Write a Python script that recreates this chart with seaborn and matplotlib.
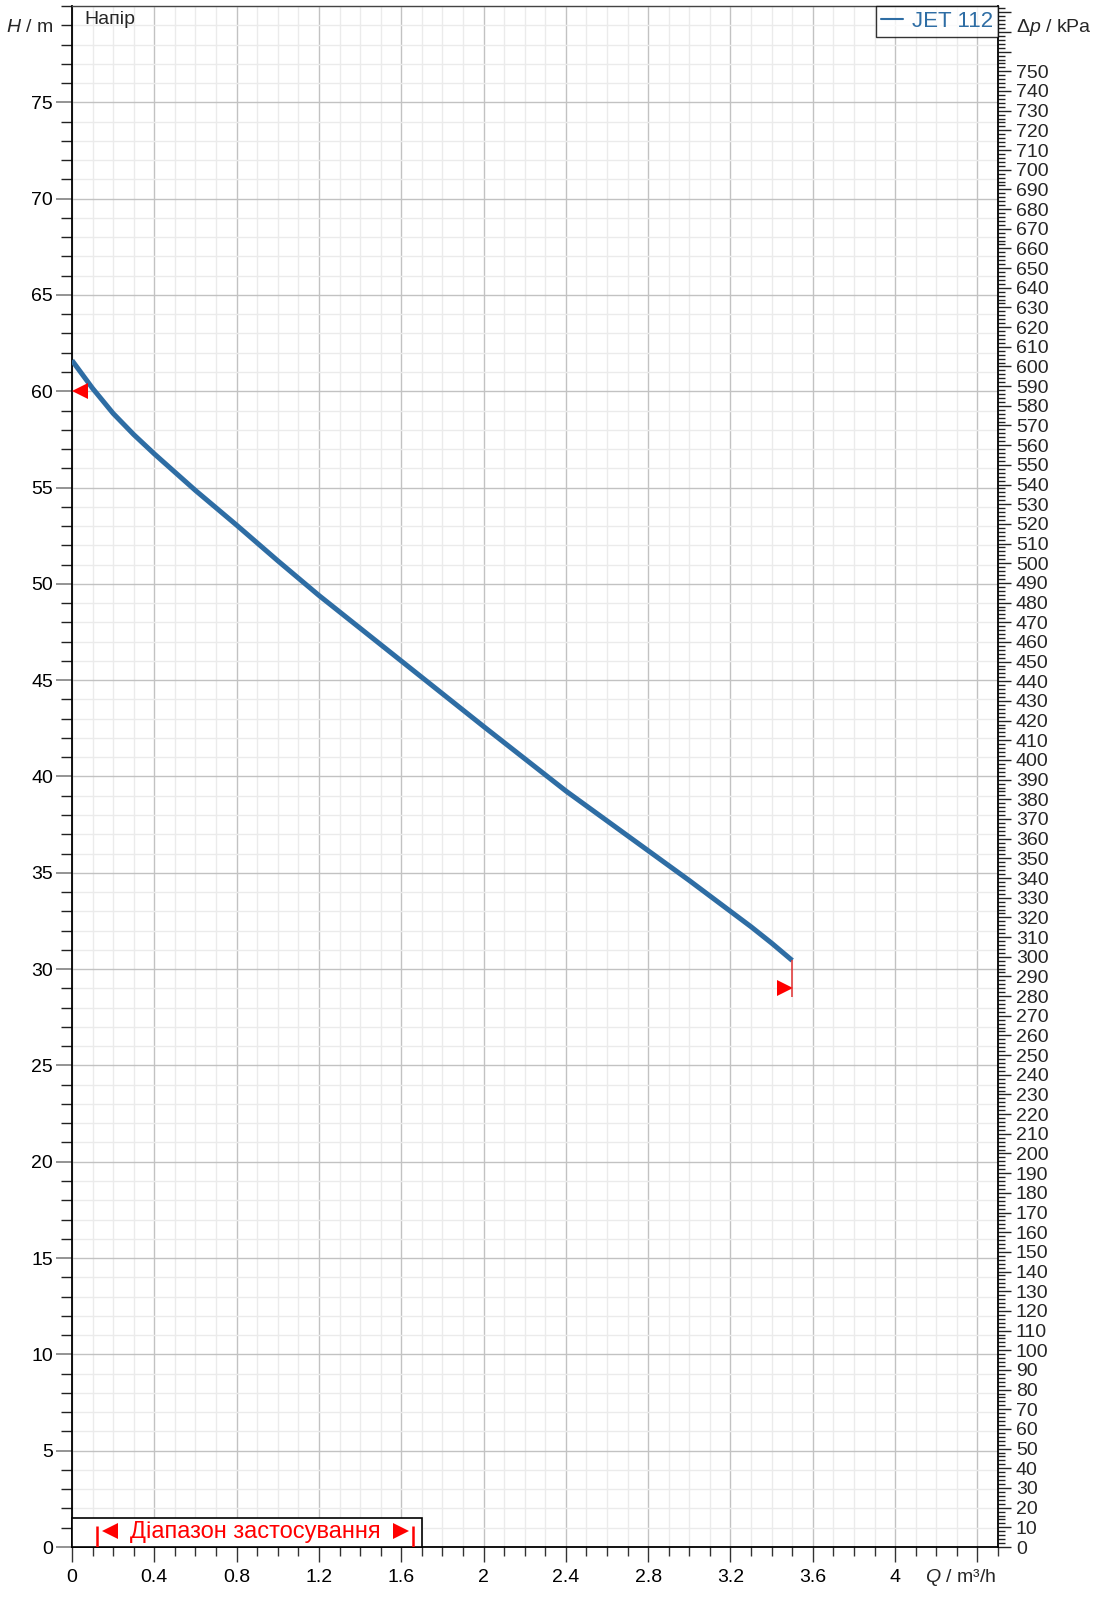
import numpy as np
import pandas as pd
import matplotlib
matplotlib.use("Agg")
import matplotlib.pyplot as plt
import seaborn as sns
from matplotlib.lines import Line2D
from matplotlib.patches import Rectangle
from matplotlib.ticker import MultipleLocator, FixedLocator, FixedFormatter

# ---- data ----
flow_q = [0.0, 0.1, 0.2, 0.3, 0.4, 0.6, 0.8, 1.0, 1.2, 1.6, 2.0, 2.4, 2.8, 3.0, 3.2, 3.3, 3.4, 3.5]
head_h = [61.6, 60.15, 58.85, 57.75, 56.75, 54.85, 53.05, 51.2, 49.4, 46.0, 42.6, 39.25,
          36.15, 34.6, 33.0, 32.2, 31.35, 30.45]
series_name = "JET 112"
x_major = [0, 0.4, 0.8, 1.2, 1.6, 2.0, 2.4, 2.8, 3.2, 3.6, 4.0, 4.4]
x_labels = ["0", "0.4", "0.8", "1.2", "1.6", "2", "2.4", "2.8", "3.2", "3.6", "4", ""]
y_major = [0, 5, 10, 15, 20, 25, 30, 35, 40, 45, 50, 55, 60, 65, 70, 75]
kpa_major = list(range(0, 790, 10))
kpa_labels = [str(v) if v <= 750 else "" for v in kpa_major]
range_q = [0.12, 1.658]
range_box_q = 1.70
min_head_marker = (0.039, 60.0)
end_marker = (3.467, 29.0)
end_line_h = [28.57, 30.45]
kpa_per_m = 9.79

sns.set_theme(style="white")
plt.rcParams['font.family'] = ['Liberation Sans', 'DejaVu Sans']
plt.rcParams['mathtext.fontset'] = 'custom'
plt.rcParams['mathtext.rm'] = 'Liberation Sans'
plt.rcParams['mathtext.it'] = 'Liberation Sans:italic'

W, H = 1095, 1598
fig = plt.figure(figsize=(W / 100, H / 100), dpi=100)
left, right, bottom, top = 72 / W, 998 / W, 1 - 1547 / H, 1 - 6 / H
ax = fig.add_axes([left, bottom, right - left, top - bottom])

curve_color = '#2e6da4'
df = pd.DataFrame({"Q": flow_q, "H": head_h})
sns.lineplot(data=df, x="Q", y="H", ax=ax, color=curve_color, lw=3.6,
             solid_capstyle='butt', zorder=5)

ax.set_xlim(0, 4.5)
ax.set_ylim(0, 80)
ax.set_xlabel("")
ax.set_ylabel("")

ax.xaxis.set_major_locator(FixedLocator(x_major))
ax.xaxis.set_major_formatter(FixedFormatter(x_labels))
ax.xaxis.set_minor_locator(MultipleLocator(0.1))
ax.yaxis.set_major_locator(FixedLocator(y_major))
ax.yaxis.set_minor_locator(MultipleLocator(1))

ax.grid(which='major', color='#c2c2c2', lw=1.0)
ax.grid(which='minor', color='#ebebeb', lw=1.0)
ax.set_axisbelow(True)

fs = 14
ax.tick_params(axis='x', which='major', direction='out', length=10.8, width=1.0,
               color='#333333', pad=5, labelsize=fs, bottom=True)
ax.tick_params(axis='x', which='minor', direction='out', length=6.3, width=1.0,
               color='#333333', bottom=True)
ax.tick_params(axis='y', which='major', direction='out', length=11.2, width=1.2,
               color='#808080', pad=2.5, labelsize=fs, left=True)
ax.tick_params(axis='y', which='minor', direction='out', length=7.6, width=1.0,
               color='#222222', left=True)
ax.tick_params(labelcolor='black')

for s in ['left', 'bottom']:
    ax.spines[s].set_color('black')
    ax.spines[s].set_linewidth(1.3)
ax.spines['top'].set_color('#444444')
ax.spines['top'].set_linewidth(1.0)
ax.spines['right'].set_visible(False)

# right kPa axis
ax2 = ax.twinx()
ax2.set_ylim(0, 80 * kpa_per_m)
ax2.yaxis.set_major_locator(FixedLocator(kpa_major))
ax2.yaxis.set_major_formatter(FixedFormatter(kpa_labels))
ax2.yaxis.set_minor_locator(MultipleLocator(2))
ax2.tick_params(axis='y', which='major', direction='out', length=9.4, width=1.0,
                color='#222222', pad=3.5, labelsize=fs, right=True)
ax2.tick_params(axis='y', which='minor', direction='out', length=4.8, width=1.0,
                color='#222222', right=True)
ax2.grid(False)
for s in ['left', 'top', 'bottom']:
    ax2.spines[s].set_visible(False)
ax2.spines['right'].set_color('black')
ax2.spines['right'].set_linewidth(1.3)

# markers
red = '#ff0000'
ax.plot([min_head_marker[0]], [min_head_marker[1]], marker='<', ms=11.5,
        color=red, mew=0, ls='none', zorder=6)
ax.plot([end_marker[0]], [end_marker[1]], marker='>', ms=11.5,
        color=red, mew=0, ls='none', zorder=6)
ax.vlines([flow_q[-1]], end_line_h[0], end_line_h[1], color='#e03030', lw=1.1, zorder=6)

# application range box
ax.add_patch(Rectangle((0, 0), range_box_q, 1.52, facecolor='white',
                       edgecolor='black', lw=1.2, zorder=7, clip_on=False))
ax.vlines(range_q, 0, 1.1, color=red, lw=1.8, zorder=8)
ax.plot([0.185], [0.85], marker='<', ms=11, color=red, mew=0, ls='none', zorder=8)
ax.plot([1.60], [0.85], marker='>', ms=11, color=red, mew=0, ls='none', zorder=8)
ax.text(0.89, 0.80, 'Діапазон застосування', color=red, fontsize=17,
        ha='center', va='center', zorder=8)

# legend
handle = Line2D([], [], color=curve_color, lw=1.5)
leg = ax2.legend([handle], [series_name], loc='upper right', borderaxespad=0,
                 frameon=True, fancybox=False, fontsize=16, handlelength=1.0,
                 handletextpad=0.4, borderpad=0.22, labelcolor=curve_color)
leg.get_frame().set_edgecolor('black')
leg.get_frame().set_linewidth(1.0)

# texts
fig.text(84 / W, 1 - 19 / H, 'Напір', fontsize=fs, ha='left', va='center')
fig.text(53 / W, 1 - 28 / H, r'$H$ / m', fontsize=fs, ha='right', va='center')
fig.text(1016 / W, 1 - 28 / H, r'$\Delta p$ / kPa', fontsize=fs, ha='left', va='center')
fig.text(925 / W, 1 - 1578 / H, r'$Q$ / m³/h', fontsize=fs, ha='left', va='center')

fig.savefig('out.png', dpi=100)
